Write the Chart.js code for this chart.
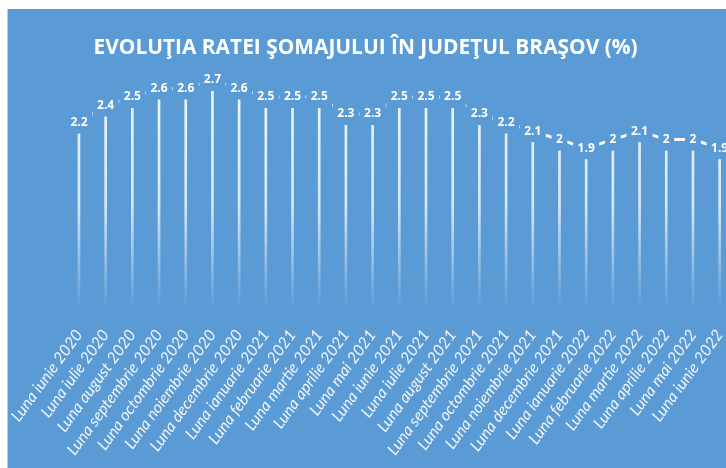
<!DOCTYPE html>
<html>
<head>
<meta charset="utf-8">
<script src="https://cdn.jsdelivr.net/npm/chart.js@4"></script>
<style>
  html, body { margin: 0; padding: 0; background: #fff; overflow: hidden; width: 726px; height: 468px; }
  #wrap { position: absolute; left: 7px; top: 9px; width: 740px; height: 459px; background: #5b9bd5; border-left: 1px solid #c9c9c9; }
  #title { position: absolute; left: 0; top: 21px; width: 716px; text-align: center; color: #fff;
           font: bold 22px "Open Sans", sans-serif; white-space: nowrap; }
  #title span { display: inline-block; transform-origin: center; }
</style>
</head>
<body>
<div id="wrap">
  <canvas id="chart" width="740" height="459"></canvas>
  <div id="title"><span>EVOLUŢIA RATEI ŞOMAJULUI ÎN JUDEŢUL BRAŞOV (%)</span></div>
</div>
<script>
const months = [
  'Luna iunie 2020', 'Luna iulie 2020', 'Luna august 2020', 'Luna septembrie 2020',
  'Luna octombrie 2020', 'Luna noiembrie 2020', 'Luna decembrie 2020', 'Luna ianuarie 2021',
  'Luna februarie 2021', 'Luna martie 2021', 'Luna aprilie 2021', 'Luna mai 2021',
  'Luna iunie 2021', 'Luna iulie 2021', 'Luna august 2021', 'Luna septembrie 2021',
  'Luna octombrie 2021', 'Luna noiembrie 2021', 'Luna decembrie 2021', 'Luna ianuarie 2022',
  'Luna februarie 2022', 'Luna martie 2022', 'Luna aprilie 2022', 'Luna mai 2022',
  'Luna iunie 2022'
];
const rates = [2.2, 2.4, 2.5, 2.6, 2.6, 2.7, 2.6, 2.5, 2.5, 2.5, 2.3, 2.3,
               2.5, 2.5, 2.5, 2.3, 2.2, 2.1, 2, 1.9, 2, 2.1, 2, 2, 1.9];
const yMin = 0;
const yMax = 3;

const bgBlue = '#5b9bd5';

// fit title to the width it has in the picture
const span = document.querySelector('#title span');
span.style.transform = 'scaleX(' + (544 / span.offsetWidth) + ')';

function dropGradient(context) {
  const chart = context.chart;
  const area = chart.chartArea;
  if (!area) return 'rgba(255,255,255,0.8)';
  const g = chart.ctx.createLinearGradient(0, area.top, 0, area.bottom);
  g.addColorStop(0, 'rgba(255,255,255,0.95)');
  g.addColorStop(0.6, 'rgba(255,255,255,0.75)');
  g.addColorStop(1, 'rgba(255,255,255,0)');
  return g;
}

// value labels sit on the points with a blue box behind them
const valueLabels = {
  id: 'valueLabels',
  afterDatasetsDraw(chart) {
    const ctx = chart.ctx;
    const meta = chart.getDatasetMeta(0);
    ctx.save();
    ctx.font = 'bold 12px "Open Sans"';
    ctx.textAlign = 'center';
    ctx.textBaseline = 'middle';
    meta.data.forEach((pt, i) => {
      const txt = String(rates[i]);
      const w = ctx.measureText(txt).width + 9;
      ctx.fillStyle = bgBlue;
      ctx.fillRect(pt.x - w / 2, pt.y - 10, w, 21);
      ctx.fillStyle = '#fff';
      ctx.fillText(txt, pt.x, pt.y);
    });
    ctx.restore();
  }
};

new Chart(document.getElementById('chart'), {
  type: 'bar',
  data: {
    labels: months,
    datasets: [
      {
        type: 'line',
        data: rates,
        borderColor: '#fff',
        borderWidth: 3,
        pointRadius: 0,
        tension: 0,
        order: 0
      },
      {
        type: 'bar',
        data: rates,
        barThickness: 2,
        backgroundColor: dropGradient,
        order: 1
      }
    ]
  },
  options: {
    responsive: false,
    animation: false,
    devicePixelRatio: 1,
    layout: { padding: { left: 57.6, right: 15, top: 45.4, bottom: 0 } },
    plugins: { legend: { display: false }, tooltip: { enabled: false } },
    scales: {
      y: { display: false, min: yMin, max: yMax },
      x: {
        grid: { display: false },
        border: { display: false },
        ticks: {
          color: 'rgba(255,255,255,0.9)',
          font: { family: 'Lato', size: 16, style: 'italic' },
          minRotation: 54,
          maxRotation: 54,
          autoSkip: false,
          padding: 8
        },
        afterFit(scale) {
          scale.height = 158;
          // let the rotated labels run past the edge, as in the picture
          scale.paddingLeft = 0;
          scale.paddingRight = 0;
        }
      }
    }
  },
  plugins: [valueLabels]
});
</script>
</body>
</html>
